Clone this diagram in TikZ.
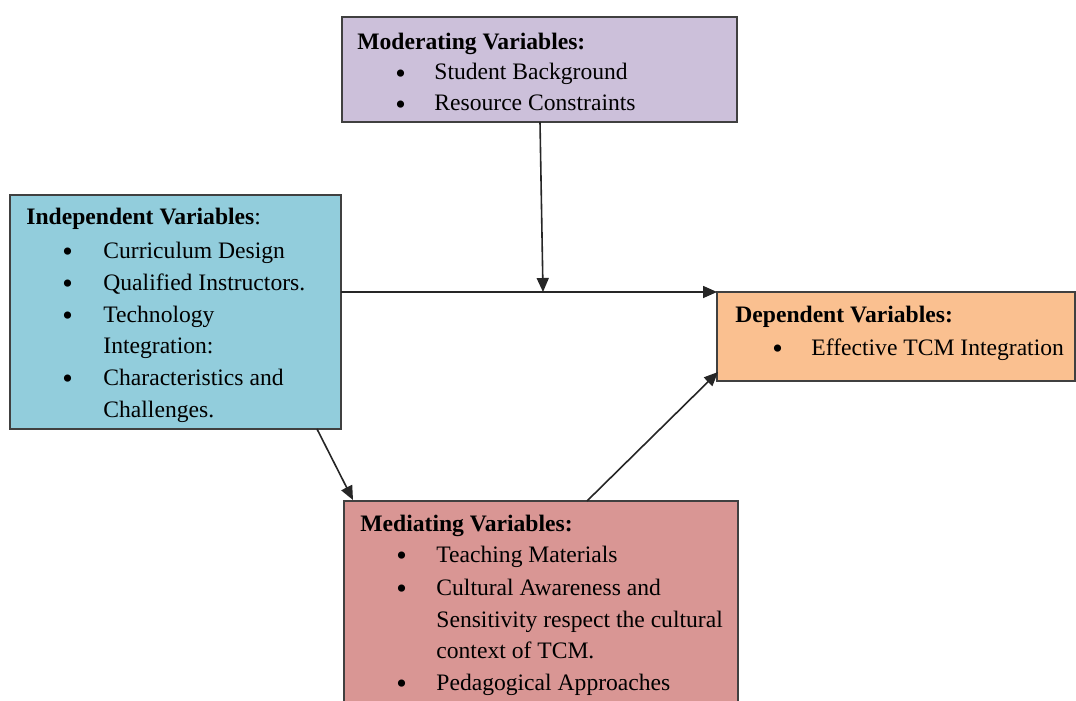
\documentclass[tikz,border=0pt]{standalone}
\usepackage{fontspec}
\setmainfont{Liberation Serif}
\usetikzlibrary{arrows.meta}
\definecolor{modc}{HTML}{CCC0DA}
\definecolor{indc}{HTML}{92CDDC}
\definecolor{depc}{HTML}{FAC090}
\definecolor{medc}{HTML}{D99694}
\definecolor{edge}{HTML}{404040}
\begin{document}
\begin{tikzpicture}[x=0.5pt,y=-0.5pt,
  box/.style={draw=edge,line width=1pt,inner sep=0pt,outer sep=0pt},
  txt/.style={anchor=base west,inner sep=0pt,font=\fontsize{11.8}{15}\selectfont},
  ttl/.style={txt,font=\fontsize{11.8}{15}\selectfont\bfseries},
  bul/.style={anchor=base west,inner sep=0pt,yshift=-1.6pt,font=\fontsize{15}{15}\selectfont},
  arr/.style={draw=black!85,line width=0.8pt,-{Triangle[length=7pt,width=6pt]}}]
\clip (0,0) rectangle (1076,701);
\fill[white] (0,0) rectangle (1076,701);
% boxes
\path[box,fill=modc] (342,17) rectangle (737,122) node[pos=0.5,inner sep=0pt] (mod) {};
\path[box,fill=indc] (10,195) rectangle (341,429) node[pos=0.5,inner sep=0pt] (ind) {};
\path[box,fill=depc] (717,292) rectangle (1075,381) node[pos=0.5,inner sep=0pt] (dep) {};
\path[box,fill=medc] (344,501) rectangle (738,720) node[pos=0.5,inner sep=0pt] (med) {};
% connector end coordinates
\coordinate (modB) at (540,122);
\coordinate (hit) at (543,292);
\coordinate (indR) at (341,292);
\coordinate (depL) at (717,292);
\coordinate (indB) at (317,429);
\coordinate (medT) at (353,500);
\coordinate (medT2) at (587,501);
\coordinate (depL2) at (718,372);
\draw[arr] (indR) -- (depL);
\draw[arr] (modB) -- (hit);
\draw[arr] (indB) -- (medT);
\draw[arr] (medT2) -- (depL2);
% Moderating
\node[ttl] (modt) at (357,50) {Moderating Variables:};
\node[bul] (modb1) at (395,80) {•};
\node[txt] (mod1) at (434,80) {Student Background};
\node[bul] (modb2) at (395,111) {•};
\node[txt] (mod2) at (434,111) {Resource Constraints};
% Independent
\node[txt] (indt) at (26,224) {\textbf{Independent Variables}:};
\node[bul] (indb1) at (62,258) {•};
\node[txt] (ind1) at (103,258) {Curriculum Design};
\node[bul] (indb2) at (62,290) {•};
\node[txt] (ind2) at (103,290) {Qualified Instructors.};
\node[bul] (indb3) at (62,322) {•};
\node[txt] (ind3) at (103,322) {Technology};
\node[txt] (ind3b) at (103,353) {Integration:};
\node[bul] (indb4) at (62,385) {•};
\node[txt] (ind4) at (103,385) {Characteristics and};
\node[txt] (ind4b) at (103,417) {Challenges.};
% Dependent
\node[ttl] (dept) at (735,322) {Dependent Variables:};
\node[bul] (depb1) at (772,355) {•};
\node[txt] (dep1) at (811,355) {Effective TCM Integration};
% Mediating
\node[ttl] (medt) at (360,531) {Mediating Variables:};
\node[bul] (medb1) at (396,562) {•};
\node[txt] (med1) at (436,562) {Teaching Materials};
\node[bul] (medb2) at (396,595) {•};
\node[txt] (med2) at (436,595) {Cultural Awareness and};
\node[txt] (med2b) at (436,627) {Sensitivity respect the cultural};
\node[txt] (med2c) at (436,658) {context of TCM.};
\node[bul] (medb3) at (396,690) {•};
\node[txt] (med3) at (436,690) {Pedagogical Approaches};
\end{tikzpicture}
\end{document}
